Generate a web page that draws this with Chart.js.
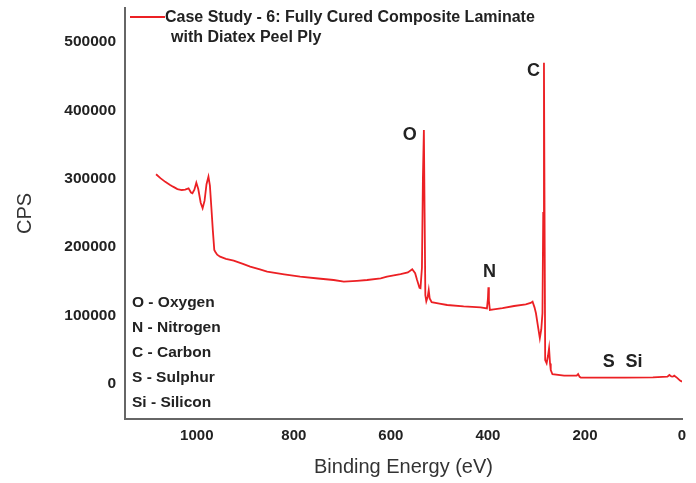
<!DOCTYPE html>
<html>
<head>
<meta charset="utf-8">
<script src="https://cdn.jsdelivr.net/npm/chart.js@4.4.1/dist/chart.umd.min.js"></script>
<style>
body{margin:0;background:#fff}
#wrap{width:696px;height:483px;position:relative}
</style>
</head>
<body>
<div id="wrap"><canvas id="graf"></canvas></div>
<script>
// XPS survey spectrum
const energy = [1084,1075,1065,1055,1049,1040,1031,1024,1017,1012,1009,1005,1001,997,992,988,984,980,976,973,970,967,964,962,958,952,940,924,905,890,870,855,820,787,750,718,697,670,649,621,608,580,565,556,550,546,541,539,536,534,532,530.5,529,527,524,522,520,516,500,484,450,415,402,400,399,398,396,388,370,346,322,312,308,304,301,297,293,290,287.6,286,284.5,283,282,279,276,274,272,270.5,267,243,217,214,211,208.5,150,119,60,30,26,22,19,16,10,4,0]
const cps = [306600,301000,295500,291000,288500,285000,283600,284200,286100,280000,278800,284000,294300,285000,265000,256900,268000,292000,303100,290000,258000,225000,196000,193400,189000,186100,183000,180300,175500,171500,167500,164200,160300,156900,154200,152000,149600,150800,152000,154500,156900,160500,163000,167700,162000,152000,140500,139900,170000,300000,371300,250000,130000,121000,128000,137400,125000,119500,117500,115500,113500,112100,110500,125000,141400,122000,108200,109200,111000,114000,116500,118500,120300,112000,103400,85000,66800,80000,103400,250000,469700,200000,35100,30300,42000,52200,30000,20500,14200,12100,12100,14600,10500,9200,9200,9200,9700,10700,13200,11000,10700,12100,9000,5000,3400]

const xTicks = [1000,800,600,400,200,0]
const yTicks = [0,100000,200000,300000,400000,500000]
const seriesName = ['Case Study - 6: Fully Cured Composite Laminate','with Diatex Peel Ply']

// peak letters, placed in data units
const peakText = ['O','C','N','S','Si']
const peakEnergy = [561,306,397,151,99]
const peakCps = [364000,457000,163000,31400,31400]

const elementList = ['O - Oxygen','N - Nitrogen','C - Carbon','S - Sulphur','Si - Silicon']

const lineColor = 'rgb(236,32,36)'
const fontFam = "'Liberation Sans', Arial, sans-serif"

const textPlugin = {
    id: 'textos',
    afterDraw(chart){
        const ctx = chart.ctx
        const x = chart.scales.x
        const y = chart.scales.y
        const area = chart.chartArea
        ctx.save()
        // legend
        ctx.strokeStyle = lineColor
        ctx.lineWidth = 1.8
        ctx.beginPath()
        ctx.moveTo(area.left + 5, 17)
        ctx.lineTo(area.left + 40, 17)
        ctx.stroke()
        ctx.fillStyle = '#222'
        ctx.font = 'bold 16px ' + fontFam
        ctx.textBaseline = 'middle'
        ctx.textAlign = 'left'
        ctx.fillText(seriesName[0], area.left + 40, 18)
        ctx.fillText(seriesName[1], area.left + 46, 38)
        // peak letters
        ctx.font = 'bold 18px ' + fontFam
        ctx.textAlign = 'center'
        peakText.forEach((t, i) => {
            ctx.fillText(t, x.getPixelForValue(peakEnergy[i]), y.getPixelForValue(peakCps[i]))
        })
        // element key
        ctx.font = 'bold 15.5px ' + fontFam
        ctx.textAlign = 'left'
        elementList.forEach((t, i) => {
            ctx.fillText(t, area.left + 7, 303 + i * 25)
        })
        ctx.restore()
    }
}

const pts = energy.map((e, i) => ({x: e, y: cps[i]}))

new Chart(document.getElementById('graf'), {
    type: 'scatter',
    data: {
        datasets: [{
            label: seriesName.join(' '),
            data: pts,
            showLine: true,
            borderColor: lineColor,
            borderWidth: 1.8,
            pointRadius: 0,
            tension: 0
        }]
    },
    options: {
        responsive: true,
        maintainAspectRatio: false,
        animation: false,
        layout: { padding: { top: 8, right: 14, left: 0, bottom: 0 } },
        plugins: {
            legend: { display: false },
            tooltip: { enabled: false }
        },
        scales: {
            x: {
                type: 'linear',
                reverse: true,
                min: 0,
                max: 1148,
                afterBuildTicks: s => { s.ticks = xTicks.map(v => ({value: v})) },
                afterFit: s => { s.height = 64; s.paddingLeft = 0; s.paddingRight = 0 },
                grid: { display: false, drawTicks: false },
                border: { display: true, color: '#666', width: 2 },
                ticks: {
                    padding: 8,
                    color: '#222',
                    callback: v => String(v),
                    font: { family: fontFam, size: 15, weight: 'bold' }
                },
                title: {
                    display: true,
                    text: 'Binding Energy (eV)',
                    color: '#333',
                    padding: { top: 2, bottom: 4 },
                    font: { family: fontFam, size: 20 }
                }
            },
            y: {
                min: -51200,
                max: 549700,
                afterBuildTicks: s => { s.ticks = yTicks.map(v => ({value: v})) },
                afterFit: s => { s.width = 125; s.paddingTop = 0; s.paddingBottom = 0 },
                grid: { display: false, drawTicks: false },
                border: { display: true, color: '#666', width: 2 },
                ticks: {
                    padding: 9,
                    color: '#222',
                    callback: v => String(v),
                    font: { family: fontFam, size: 15.5, weight: 'bold' }
                },
                title: {
                    display: true,
                    text: 'CPS',
                    color: '#333',
                    padding: { top: 13, bottom: 0 },
                    font: { family: fontFam, size: 20 }
                }
            }
        }
    },
    plugins: [textPlugin]
})
</script>
</body>
</html>
